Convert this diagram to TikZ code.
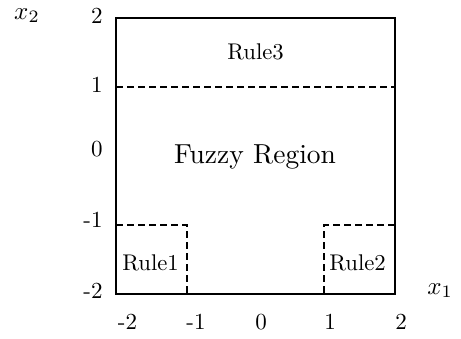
\documentclass[tikz,border=0pt]{standalone}
\usepackage{tikz}
\begin{document}
\begin{tikzpicture}[x=1pt,y=-1pt,
  frame/.style={line width=1.6pt},
  split/.style={line width=1.1pt,dash pattern=on 7pt off 4pt},
  tick/.style={font=\normalsize,scale=2.3,inner sep=0pt},
  rulelab/.style={font=\normalsize,scale=2.27,inner sep=0pt,anchor=base},
  axlab/.style={font=\normalsize,scale=2.5,inner sep=0pt,anchor=base}]
  \useasboundingbox (0,0) rectangle (461,338);
  % outer region
  \coordinate (nw) at (116,18);
  \coordinate (ne) at (395,18);
  \coordinate (se) at (395,294);
  \coordinate (sw) at (116,294);
  \draw[frame] (nw) -- (ne) -- (se) -- (sw) -- cycle;
  % rule boundaries
  \coordinate (r3l) at (116,87);
  \coordinate (r3r) at (395,87);
  \draw[split] (r3l) -- (r3r);
  \coordinate (r1a) at (116,225);
  \coordinate (r1b) at (187,225);
  \coordinate (r1c) at (187,294);
  \draw[split] (r1a) -- (r1b) -- (r1c);
  \coordinate (r2a) at (395,225);
  \coordinate (r2b) at (324,225);
  \coordinate (r2c) at (324,294);
  \draw[split] (r2a) -- (r2b) -- (r2c);
  % region labels
  \node[rulelab] (rule3) at (255.5,59) {Rule3};
  \node[rulelab] (rule1) at (150.5,270) {Rule1};
  \node[rulelab] (rule2) at (357.5,270) {Rule2};
  \node[font=\normalsize,scale=2.75,inner sep=0pt,anchor=base] (fuzzy) at (255,163) {Fuzzy Region};
  % axis names
  \node[axlab] (x2) at (27,19) {$x_2$};
  \node[axlab] (x1) at (440,294) {$x_1$};
  % x2 ticks
  \node[tick,anchor=east] (y2) at (103,16) {2};
  \node[tick,anchor=east] (y1) at (103,85) {1};
  \node[tick,anchor=east] (y0) at (103,149) {0};
  \node[tick,anchor=east] (ym1) at (103,220) {-1};
  \node[tick,anchor=east] (ym2) at (103,291) {-2};
  % x1 ticks
  \node[tick] (xm2) at (127.5,322) {-2};
  \node[tick] (xm1) at (196,322) {-1};
  \node[tick] (x0) at (261,322) {0};
  \node[tick] (xp1) at (330,322) {1};
  \node[tick] (xp2) at (401,322) {2};
\end{tikzpicture}
\end{document}
